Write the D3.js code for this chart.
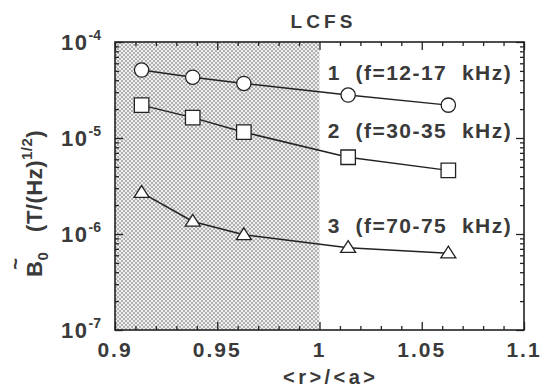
<!DOCTYPE html>
<html>
<head>
<meta charset="utf-8">
<script src="https://cdn.jsdelivr.net/npm/d3@7"></script>
<style>
  html, body { margin: 0; padding: 0; background: #fff; }
  svg text { font-family: "Liberation Sans", Arial, sans-serif; fill: #3a3a3a; font-weight: bold; }
</style>
</head>
<body>
<svg id="chart" width="550" height="388"></svg>
<script>
// radial positions <r>/<a>
const rPos = [0.913, 0.938, 0.963, 1.014, 1.063];
// fluctuation amplitude, T/(Hz)^1/2
const series1 = [5.1e-5, 4.3e-5, 3.7e-5, 2.8e-5, 2.2e-5];
const series2 = [2.2e-5, 1.63e-5, 1.15e-5, 6.3e-6, 4.6e-6];
const series3 = [2.7e-6, 1.35e-6, 9.8e-7, 7.2e-7, 6.3e-7];
const seriesLabels = ['1  (f=12-17  kHz)', '2  (f=30-35  kHz)', '3  (f=70-75  kHz)'];
const labelAt = [4.0e-5, 9.9e-6, 1.03e-6];
const xTicks = [0.9, 0.95, 1, 1.05, 1.1];
const yExps = [-7, -6, -5, -4];
const lcfs = 1.0;

const svg = d3.select('#chart');
const margin = { left: 115, right: 26, top: 42, bottom: 58 };
const width = 550 - margin.left - margin.right;
const height = 388 - margin.top - margin.bottom;

const x = d3.scaleLinear().domain([0.9, 1.1]).range([0, width]);
const y = d3.scaleLog().domain([1e-7, 1e-4]).range([height, 0]);

// stipple for the region inside the separatrix
const defs = svg.append('defs');
const pat = defs.append('pattern')
  .attr('id', 'stipple')
  .attr('patternUnits', 'userSpaceOnUse')
  .attr('width', 4).attr('height', 4);
pat.append('rect').attr('width', 4).attr('height', 4).attr('fill', '#eeeeee');
pat.append('circle').attr('cx', 1).attr('cy', 1).attr('r', 0.75).attr('fill', '#555');
pat.append('circle').attr('cx', 3).attr('cy', 3).attr('r', 0.75).attr('fill', '#555');

const g = svg.append('g').attr('transform', `translate(${margin.left},${margin.top})`);

g.append('rect')
  .attr('x', x(0.9)).attr('y', 0)
  .attr('width', x(lcfs) - x(0.9)).attr('height', height)
  .attr('fill', 'url(#stipple)');

// axes: ticks point inward on all four sides
const minorX = d3.range(0.9, 1.1001, 0.01).filter(v => !xTicks.some(t => Math.abs(t - v) < 1e-6));
const minorY = [];
for (let e = -7; e < -4; e++) for (let m = 2; m <= 9; m++) minorY.push(m * Math.pow(10, e));

function styleAxis(sel) {
  sel.select('.domain').remove();
  sel.selectAll('line').attr('stroke', '#222').attr('stroke-width', 1.3);
  sel.selectAll('text').remove();
}

g.append('g').attr('transform', `translate(0,${height})`)
  .call(d3.axisBottom(x).tickValues(xTicks).tickSize(-8)).call(styleAxis);
g.append('g').attr('transform', `translate(0,${height})`)
  .call(d3.axisBottom(x).tickValues(minorX).tickSize(-4)).call(styleAxis);
g.append('g')
  .call(d3.axisTop(x).tickValues(xTicks).tickSize(-8)).call(styleAxis);
g.append('g')
  .call(d3.axisTop(x).tickValues(minorX).tickSize(-4)).call(styleAxis);

const yMajor = yExps.map(e => Math.pow(10, e));
g.append('g').call(d3.axisLeft(y).tickValues(yMajor).tickSize(-8)).call(styleAxis);
g.append('g').call(d3.axisLeft(y).tickValues(minorY).tickSize(-4)).call(styleAxis);
g.append('g').attr('transform', `translate(${width},0)`)
  .call(d3.axisRight(y).tickValues(yMajor).tickSize(-8)).call(styleAxis);
g.append('g').attr('transform', `translate(${width},0)`)
  .call(d3.axisRight(y).tickValues(minorY).tickSize(-4)).call(styleAxis);

g.append('rect')
  .attr('width', width).attr('height', height)
  .attr('fill', 'none').attr('stroke', '#222').attr('stroke-width', 1.6);

// tick labels
g.selectAll('.xlab').data(xTicks).join('text')
  .attr('x', d => x(d)).attr('y', height + 27)
  .attr('text-anchor', 'middle')
  .style('font-size', '21px').style('letter-spacing', '2px')
  .text(d => d3.format('')(d));

const yl = g.selectAll('.ylab').data(yExps).join('text')
  .attr('x', -14).attr('y', d => y(Math.pow(10, d)) + 8)
  .attr('text-anchor', 'end')
  .style('font-size', '22px').style('letter-spacing', '1.5px');
yl.append('tspan').text('10');
yl.append('tspan').attr('dy', -10).style('font-size', '14px').style('letter-spacing', '0px').text(d => d);

// series
const line = d3.line().x(d => x(d[0])).y(d => y(d[1]));
const allSeries = [series1, series2, series3];
// flat triangle, wider than tall
const flatTriangle = {
  draw(ctx, size) {
    const w = Math.sqrt(size) * 1.25, h = w * 0.78;
    ctx.moveTo(0, -h * 0.6);
    ctx.lineTo(w / 2, h * 0.4);
    ctx.lineTo(-w / 2, h * 0.4);
    ctx.closePath();
  }
};
const shapes = [d3.symbolCircle, d3.symbolSquare, flatTriangle];
const sizes = [160, 210, 145];

allSeries.forEach((s, i) => {
  const pts = rPos.map((r, j) => [r, s[j]]);
  g.append('path').datum(pts)
    .attr('d', line)
    .attr('fill', 'none').attr('stroke', '#222').attr('stroke-width', 1.5);
  g.selectAll(null).data(pts).join('path')
    .attr('transform', d => `translate(${x(d[0])},${y(d[1])})`)
    .attr('d', d3.symbol().type(shapes[i]).size(sizes[i]))
    .attr('fill', '#fff').attr('stroke', '#222').attr('stroke-width', 1.3);
  g.append('text')
    .attr('x', x(1.004)).attr('y', y(labelAt[i]))
    .attr('textLength', 183).attr('lengthAdjust', 'spacing')
    .style('font-size', '21px').style('white-space', 'pre')
    .text(seriesLabels[i]);
});

// LCFS marker label
svg.append('text')
  .attr('x', margin.left + x(lcfs) - 29).attr('y', 28)
  .attr('textLength', 62).attr('lengthAdjust', 'spacing')
  .style('font-size', '19px')
  .text('LCFS');

// axis titles
svg.append('text')
  .attr('x', 283).attr('y', 384)
  .attr('textLength', 92).attr('lengthAdjust', 'spacing')
  .style('font-size', '20px')
  .text('<r>/<a>');

const yt = svg.append('text')
  .attr('transform', 'translate(42,277) rotate(-90)')
  .attr('text-anchor', 'start')
  .style('font-size', '22px').style('letter-spacing', '0.5px');
yt.append('tspan').text('B');
yt.append('tspan').attr('dy', 6).style('font-size', '15px').text('0');
yt.append('tspan').attr('dy', -6).style('white-space', 'pre').text('   (T/(Hz)');
yt.append('tspan').attr('dy', -10).style('font-size', '15px').text('1/2');
yt.append('tspan').attr('dy', 10).text(')');
// tilde over B
svg.append('text')
  .attr('transform', 'translate(22,264) rotate(-90)')
  .attr('text-anchor', 'middle')
  .style('font-size', '20px')
  .text('~');
</script>
</body>
</html>
